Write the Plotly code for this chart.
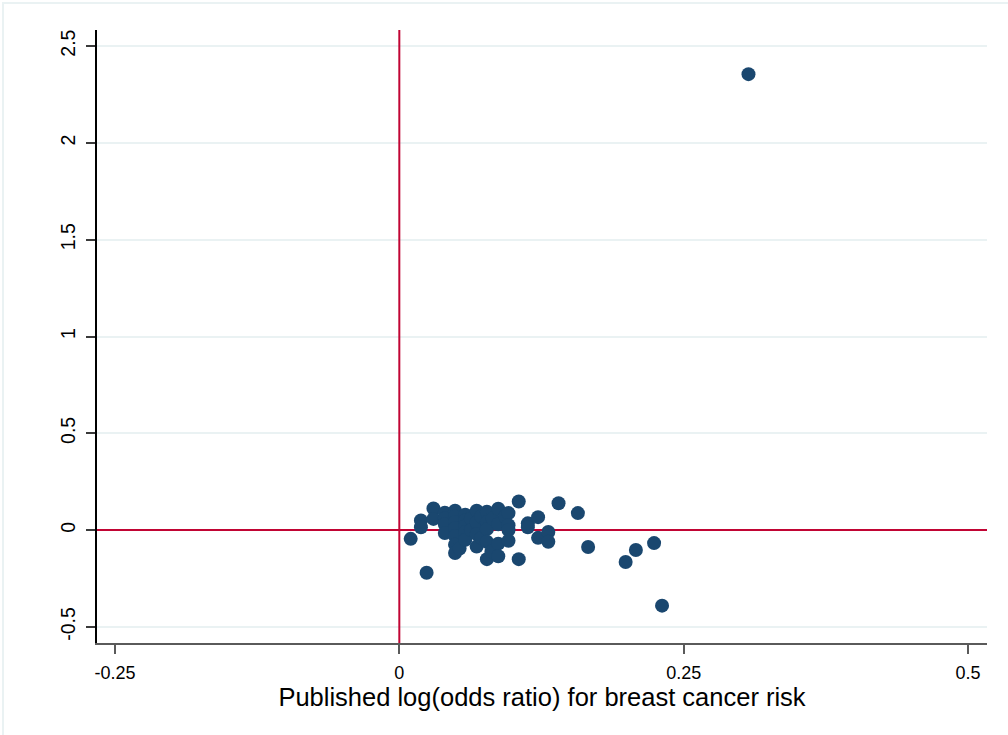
import plotly.graph_objects as go

# Published log(odds ratio) (x) vs. estimate (y)
x_vals = [0.010, 0.024, 0.019, 0.019, 0.030, 0.030, 0.040, 0.040, 0.040, 0.040,
          0.049, 0.049, 0.049, 0.049, 0.049, 0.049, 0.049, 0.053, 0.058, 0.058,
          0.058, 0.058, 0.058, 0.063, 0.063, 0.068, 0.068, 0.068, 0.068, 0.072,
          0.072, 0.077, 0.077, 0.077, 0.077, 0.077, 0.081, 0.082, 0.087, 0.087,
          0.087, 0.087, 0.093, 0.096, 0.096, 0.096, 0.096, 0.105, 0.105, 0.113,
          0.113, 0.122, 0.122, 0.131, 0.131, 0.140, 0.157, 0.166, 0.199, 0.208,
          0.224, 0.231, 0.307]
y_vals = [-0.045, -0.220, 0.050, 0.015, 0.112, 0.058, 0.090, 0.060, 0.030, -0.015,
          0.100, 0.070, 0.040, 0.010, -0.030, -0.075, -0.118, -0.095, 0.080, 0.050,
          0.020, -0.010, -0.050, 0.060, 0.000, 0.100, 0.040, -0.020, -0.085, 0.070,
          -0.040, 0.095, 0.040, 0.005, -0.060, -0.150, -0.110, 0.060, 0.110, 0.030,
          -0.070, -0.135, 0.070, 0.088, 0.025, 0.000, -0.055, 0.148, -0.150, 0.035,
          0.015, 0.067, -0.040, -0.010, -0.060, 0.139, 0.088, -0.087, -0.165, -0.103,
          -0.067, -0.390, 2.355]

x_ticks = [-0.25, 0, 0.25, 0.5]
x_tick_labels = ["-0.25", "0", "0.25", "0.5"]
y_ticks = [-0.5, 0, 0.5, 1, 1.5, 2, 2.5]
y_tick_labels = ["-0.5", "0", "0.5", "1", "1.5", "2", "2.5"]

x_range = [-0.2658, 0.5167]
y_range = [-0.583, 2.583]
ref_value = [0, 0]

NAVY = "#1a476f"
RED = "#c10534"
GRID = "#eaf2f3"
FONT = "Liberation Sans, Arial, sans-serif"

fig = go.Figure()

# reference lines at 0 (behind markers)
fig.add_trace(go.Scatter(x=ref_value, y=y_range, mode="lines",
                         line=dict(color=RED, width=2), hoverinfo="skip",
                         showlegend=False))
fig.add_trace(go.Scatter(x=x_range, y=ref_value, mode="lines",
                         line=dict(color=RED, width=2), hoverinfo="skip",
                         showlegend=False))

fig.add_trace(go.Scatter(x=x_vals, y=y_vals, mode="markers",
                         marker=dict(color=NAVY, size=14, line=dict(width=0)),
                         showlegend=False))

W, H = 1008, 735
L, R, T, B = 97, 21, 30, 92
pw, ph = W - L - R, H - T - B

fig.update_layout(
    width=W, height=H,
    margin=dict(l=L, r=R, t=T, b=B, pad=0),
    paper_bgcolor="white", plot_bgcolor="white",
    font=dict(family=FONT, color="black", size=18),
    xaxis=dict(range=x_range, tickvals=x_ticks, ticktext=x_tick_labels,
               showgrid=False, zeroline=False, showline=True,
               linecolor="#5a5a5a", linewidth=2, ticks="outside",
               ticklen=9, tickwidth=1.5, tickcolor="#5a5a5a",
               ticklabelstandoff=3,
               tickfont=dict(size=18),
               title=dict(text="Published log(odds ratio) for breast cancer risk",
                          font=dict(size=25.5), standoff=0)),
    yaxis=dict(range=y_range, tickvals=y_ticks, ticktext=y_tick_labels,
               showgrid=True, gridcolor=GRID, gridwidth=2,
               zeroline=False, showline=True,
               linecolor="black", linewidth=1.5, ticks="outside",
               ticklen=9, tickwidth=1.5, tickcolor="#3a3a3a",
               tickangle=-90, ticklabelstandoff=3,
               tickfont=dict(size=19.5)),
    shapes=[dict(type="rect", xref="paper", yref="paper",
                 x0=(3 - L) / pw, x1=1.2,
                 y0=-0.3, y1=1 + (T - 3) / ph,
                 line=dict(color=GRID, width=2), fillcolor="rgba(0,0,0,0)",
                 layer="below")],
)

fig.write_html("out.html")
